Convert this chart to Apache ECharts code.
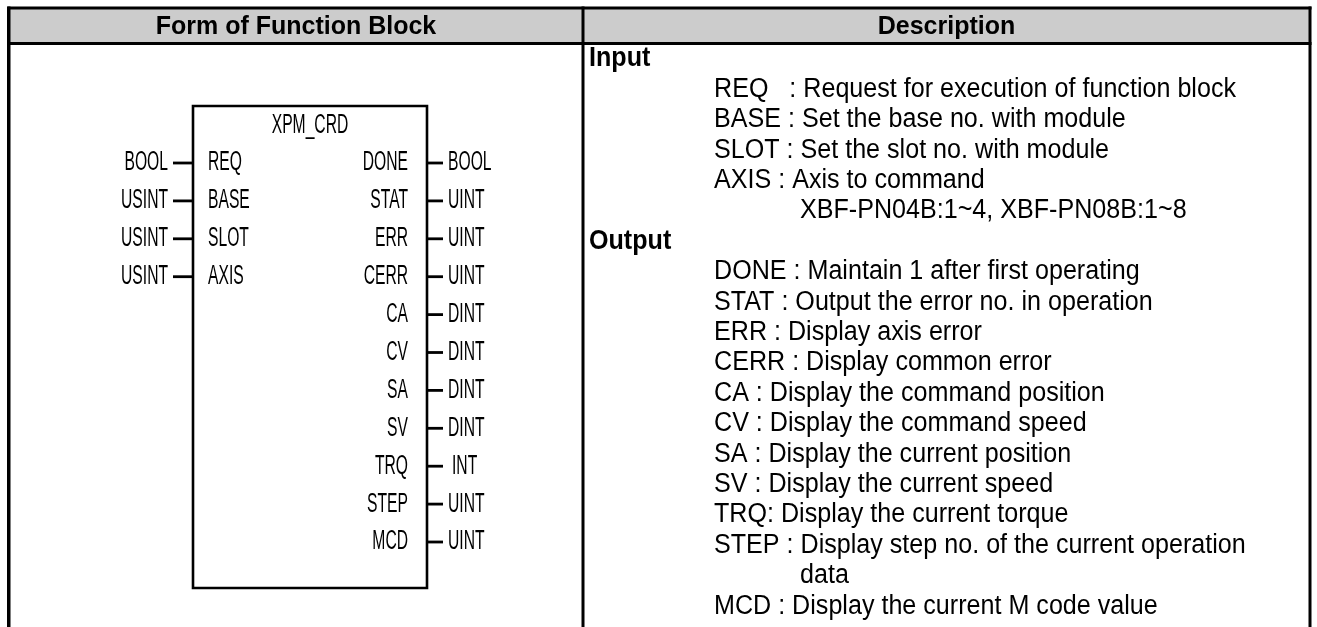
<!DOCTYPE html>
<html><head><meta charset="utf-8">
<script src="https://cdn.jsdelivr.net/npm/echarts@6/dist/echarts.min.js"></script>
<style>html,body{margin:0;padding:0;background:#fff}#c{width:1317px;height:627px}</style>
</head><body><div id="c"></div>
<script>
// ---- content ----
const headerLabels = ['Form of Function Block', 'Description'];
const blockName = 'XPM_CRD';
const inputNames = ['REQ', 'BASE', 'SLOT', 'AXIS'];
const inputTypes = ['BOOL', 'USINT', 'USINT', 'USINT'];
const outputNames = ['DONE', 'STAT', 'ERR', 'CERR', 'CA', 'CV', 'SA', 'SV', 'TRQ', 'STEP', 'MCD'];
const outputTypes = ['BOOL', 'UINT', 'UINT', 'UINT', 'DINT', 'DINT', 'DINT', 'DINT', 'INT', 'UINT', 'UINT'];
const inputSection = 'Input';
const outputSection = 'Output';
const inputDesc = [
  ['REQ   : Request for execution of function block'],
  ['BASE : Set the base no. with module'],
  ['SLOT : Set the slot no. with module'],
  ['AXIS : Axis to command', 'XBF-PN04B:1~4, XBF-PN08B:1~8']
];
const outputDesc = [
  ['DONE : Maintain 1 after first operating'],
  ['STAT : Output the error no. in operation'],
  ['ERR : Display axis error'],
  ['CERR : Display common error'],
  ['CA : Display the command position'],
  ['CV : Display the command speed'],
  ['SA : Display the current position'],
  ['SV : Display the current speed'],
  ['TRQ: Display the current torque'],
  ['STEP : Display step no. of the current operation', 'data'],
  ['MCD : Display the current M code value']
];

// ---- layout ----
const W = 1317, H = 627;
const L = {
  left: 9, right: 1310, top: 8, headBottom: 43.5, divider: 583, frameW: 3,
  boxL: 193, boxR: 427, boxT: 106, boxB: 588,
  nameY: 126, row0: 163, rowStep: 37.9,
  inTypeR: 168, inDashL: 173, pinInL: 208,
  pinOutR: 408, outDashR: 443, outTypeL: 448,
  secX: 589, itemX: 714, contX: 800, desc0: 59, descStep: 30.4
};
const FONT = 'Liberation Sans, Arial, sans-serif';
const blockFont = { size: 27, scaleX: 0.58 };
const descFont = { size: 27, scaleX: 0.93 };
const headFont = { size: 25 };

const descRows = [];
descRows.push({ t: inputSection, k: 'sec' });
inputDesc.forEach(a => a.forEach((t, j) => descRows.push({ t: t, k: j ? 'cont' : 'item' })));
descRows.push({ t: outputSection, k: 'sec' });
outputDesc.forEach(a => a.forEach((t, j) => descRows.push({ t: t, k: j ? 'cont' : 'item' })));

function C(api, x, y) { return api.coord([x, y]); }
function txt(api, x, y, text, o) {
  const p = C(api, x, y);
  return {
    type: 'text', x: p[0], y: p[1], scaleX: o.scaleX || 1,
    style: {
      text: text, fill: '#000', fontSize: o.size, fontFamily: FONT,
      fontWeight: o.bold ? 'bold' : 'normal',
      align: o.align || 'left', verticalAlign: 'middle'
    }
  };
}
function box(api, x1, y1, x2, y2, fill) {
  const a = C(api, x1, y1), b = C(api, x2, y2);
  return { type: 'rect', shape: { x: a[0], y: a[1], width: b[0] - a[0], height: b[1] - a[1] }, style: { fill: fill } };
}

const chart = echarts.init(document.getElementById('c'), null, { renderer: 'canvas' });
chart.setOption({
  animation: false,
  grid: { left: 0, right: 0, top: 0, bottom: 0 },
  xAxis: { type: 'value', min: 0, max: W, show: false },
  yAxis: { type: 'value', min: 0, max: H, inverse: true, show: false },
  series: [
    { // table frame + headers + block outline
      type: 'custom', data: [[0]], silent: true,
      renderItem: function (params, api) {
        const h = L.frameW / 2;
        const a = C(api, L.boxL, L.boxT), b = C(api, L.boxR, L.boxB);
        const ch = [
          box(api, L.left, L.top, L.right, L.headBottom, '#cccccc'),
          box(api, L.left - h, L.top - h, L.right + h, L.top + h, '#000'),
          box(api, L.left - h, L.headBottom - h, L.right + h, L.headBottom + h, '#000'),
          box(api, L.left - h - 0.5, L.top - h, L.left + h, H, '#000'),
          box(api, L.divider - h, L.top - h, L.divider + h, H, '#000'),
          box(api, L.right - h, L.top - h, L.right + h, H, '#000'),
          txt(api, (L.left + L.divider) / 2, (L.top + L.headBottom) / 2 + 1, headerLabels[0], { size: headFont.size, bold: true, align: 'center' }),
          txt(api, (L.divider + L.right) / 2, (L.top + L.headBottom) / 2 + 1, headerLabels[1], { size: headFont.size, bold: true, align: 'center' }),
          { type: 'rect', shape: { x: a[0], y: a[1], width: b[0] - a[0], height: b[1] - a[1] }, style: { fill: 'none', stroke: '#000', lineWidth: 2.6 } },
          txt(api, (L.boxL + L.boxR) / 2, L.nameY, blockName, { size: blockFont.size, scaleX: blockFont.scaleX, align: 'center' })
        ];
        return { type: 'group', children: ch };
      }
    },
    { // input pins
      type: 'custom', data: inputNames.map((n, i) => [i]), silent: true,
      renderItem: function (params, api) {
        const i = api.value(0), y = L.row0 + i * L.rowStep;
        const a = C(api, L.inDashL, y), b = C(api, L.boxL, y);
        return { type: 'group', children: [
          txt(api, L.inTypeR, y, inputTypes[i], { size: blockFont.size, scaleX: blockFont.scaleX, align: 'right' }),
          { type: 'line', shape: { x1: a[0], y1: a[1], x2: b[0], y2: b[1] }, style: { stroke: '#000', lineWidth: 2.8 } },
          txt(api, L.pinInL, y, inputNames[i], { size: blockFont.size, scaleX: blockFont.scaleX, align: 'left' })
        ] };
      }
    },
    { // output pins
      type: 'custom', data: outputNames.map((n, i) => [i]), silent: true,
      renderItem: function (params, api) {
        const i = api.value(0), y = L.row0 + i * L.rowStep;
        const a = C(api, L.boxR, y), b = C(api, L.outDashR, y);
        return { type: 'group', children: [
          txt(api, L.pinOutR, y, outputNames[i], { size: blockFont.size, scaleX: blockFont.scaleX, align: 'right' }),
          { type: 'line', shape: { x1: a[0], y1: a[1], x2: b[0], y2: b[1] }, style: { stroke: '#000', lineWidth: 2.8 } },
          txt(api, L.outTypeL + (outputTypes[i] === 'INT' ? 4 : 0), y, outputTypes[i], { size: blockFont.size, scaleX: blockFont.scaleX, align: 'left' })
        ] };
      }
    },
    { // description lines
      type: 'custom', data: descRows.map((r, i) => [i]), silent: true,
      renderItem: function (params, api) {
        const i = api.value(0), r = descRows[i], y = L.desc0 + i * L.descStep;
        const x = r.k === 'sec' ? L.secX : (r.k === 'cont' ? L.contX : L.itemX);
        return txt(api, x, y, r.t, { size: descFont.size, scaleX: descFont.scaleX, bold: r.k === 'sec', align: 'left' });
      }
    }
  ]
});
</script>
</body></html>
